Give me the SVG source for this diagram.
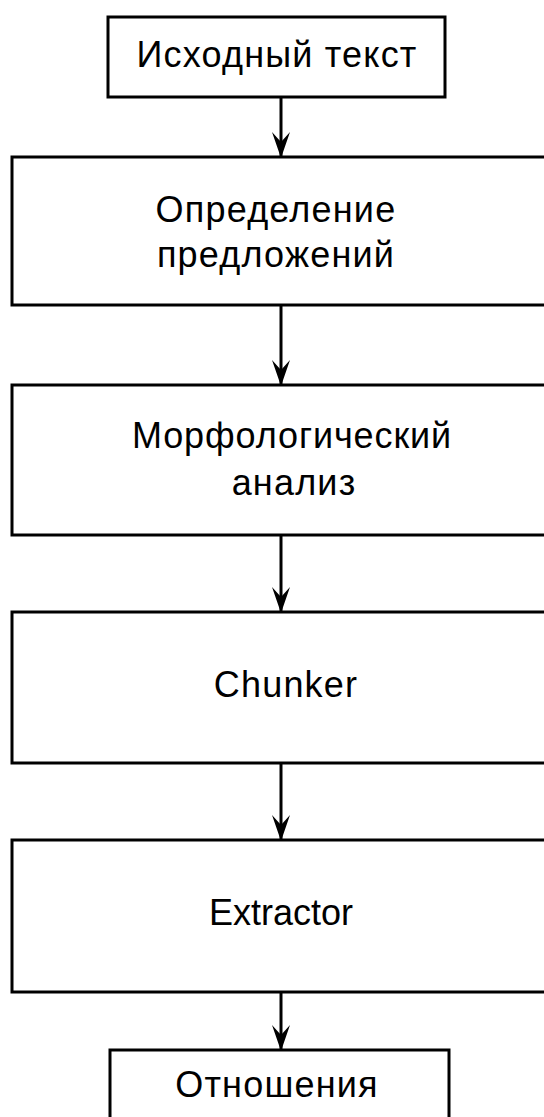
<svg xmlns="http://www.w3.org/2000/svg" width="544" height="1117" viewBox="0 0 544 1117">
  <style>
    .box { fill: #ffffff; stroke: #000000; stroke-width: 3; }
    .lbl { font-family: "Liberation Sans", Arial, sans-serif; font-size: 36px; letter-spacing: 1.2px; fill: #000000; text-anchor: middle; }
    .edge { stroke: #000000; stroke-width: 3; fill: none; marker-end: url(#arrow); }
  </style>
  <defs>
    <!-- dart arrowhead, tip at the line end -->
    <marker id="arrow" markerUnits="userSpaceOnUse" viewBox="-26 -10 28 20" refX="0" refY="0" markerWidth="28" markerHeight="20" orient="auto">
      <path d="M1,0 L-25,-9 L-15,0 L-25,9 Z" fill="#000000"/>
    </marker>
  </defs>
  <rect width="544" height="1117" fill="#ffffff"/>

  <g id="connectors">
    <line class="edge" x1="281" y1="97" x2="281" y2="157"/>
    <line class="edge" x1="281" y1="305" x2="281" y2="385"/>
    <line class="edge" x1="281" y1="535" x2="281" y2="612"/>
    <line class="edge" x1="281" y1="763" x2="281" y2="840"/>
    <line class="edge" x1="281" y1="992" x2="281" y2="1050"/>
  </g>

  <g id="source-text">
    <rect class="box" x="108" y="17" width="337" height="80"/>
    <text class="lbl" x="277" y="67">Исходный текст</text>
  </g>

  <g id="sentence-detection">
    <rect class="box" x="12" y="157" width="538" height="148"/>
    <text class="lbl" x="276" y="222">Определение</text>
    <text class="lbl" x="276" y="267">предложений</text>
  </g>

  <g id="morphology">
    <rect class="box" x="12" y="385" width="538" height="150"/>
    <text class="lbl" x="292" y="448" style="letter-spacing:0.9px">Морфологический</text>
    <text class="lbl" x="294" y="495">анализ</text>
  </g>

  <g id="chunker">
    <rect class="box" x="12" y="612" width="538" height="151"/>
    <text class="lbl" x="286" y="697">Chunker</text>
  </g>

  <g id="extractor">
    <rect class="box" x="12" y="840" width="538" height="152"/>
    <text class="lbl" x="281" y="925" style="letter-spacing:0">Extractor</text>
  </g>

  <g id="relations">
    <rect class="box" x="110" y="1050" width="339" height="100"/>
    <text class="lbl" x="277" y="1097">Отношения</text>
  </g>
</svg>
